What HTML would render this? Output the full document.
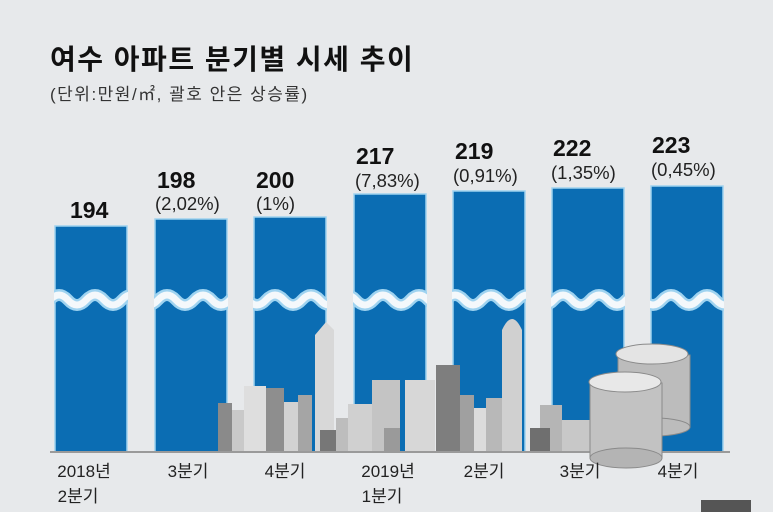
<!DOCTYPE html>
<html><head><meta charset="utf-8"><style>
body{margin:0;background:#e7e9eb;}
svg{display:block;font-family:"Liberation Sans","Noto Sans CJK KR",sans-serif;}
</style></head><body>
<svg width="773" height="512" viewBox="0 0 773 512">
<rect width="773" height="512" fill="#e7e9eb"/>
<text x="50" y="69" font-size="28" font-weight="bold" fill="#111" letter-spacing="1.5">여수 아파트 분기별 시세 추이</text>
<text x="50" y="100" font-size="17" fill="#333" letter-spacing="1.5">(단위:만원/㎡, 괄호 안은 상승률)</text>
<g fill="#0b6db3" stroke="#9fd3f0" stroke-width="1.5">
<rect x="55" y="226" width="72" height="226"/>
<rect x="155" y="219" width="72" height="233"/>
<rect x="254" y="217" width="72" height="235"/>
<rect x="354" y="194" width="72" height="258"/>
<rect x="453" y="191" width="72" height="261"/>
<rect x="552" y="188" width="72" height="264"/>
<rect x="651" y="186" width="72" height="266"/>
</g>
<g fill="none">
<path d="M50 300 q9 -10 18 0 t18 0 t18 0 t18 0 t18 0 t18 0 t18 0 t18 0 t18 0 t18 0 t18 0 t18 0 t18 0 t18 0 t18 0 t18 0 t18 0 t18 0 t18 0 t18 0 t18 0 t18 0 t18 0 t18 0 t18 0 t18 0 t18 0 t18 0 t18 0 t18 0 t18 0 t18 0 t18 0 t18 0 t18 0 t18 0 t18 0 t18 0 t18 0" stroke="#9fd3f0" stroke-width="12"/>
<path d="M50 300 q9 -10 18 0 t18 0 t18 0 t18 0 t18 0 t18 0 t18 0 t18 0 t18 0 t18 0 t18 0 t18 0 t18 0 t18 0 t18 0 t18 0 t18 0 t18 0 t18 0 t18 0 t18 0 t18 0 t18 0 t18 0 t18 0 t18 0 t18 0 t18 0 t18 0 t18 0 t18 0 t18 0 t18 0 t18 0 t18 0 t18 0 t18 0 t18 0 t18 0" stroke="#f4f8fb" stroke-width="7"/>
</g>
<g fill="#e7e9eb">
<rect x="0" y="285" width="54" height="30"/>
<rect x="128" y="285" width="26" height="30"/>
<rect x="228" y="285" width="25" height="30"/>
<rect x="327" y="285" width="26" height="30"/>
<rect x="427" y="285" width="25" height="30"/>
<rect x="526" y="285" width="25" height="30"/>
<rect x="625" y="285" width="25" height="30"/>
<rect x="724" y="285" width="49" height="30"/>
</g>
<g>
<rect x="218" y="403" width="14" height="49" fill="#8a8a8a"/>
<rect x="232" y="410" width="12" height="42" fill="#c9c9c9"/>
<rect x="244" y="386" width="22" height="66" fill="#dedede"/>
<rect x="266" y="388" width="18" height="64" fill="#8e8e8e"/>
<rect x="284" y="402" width="14" height="50" fill="#d2d2d2"/>
<rect x="298" y="395" width="14" height="57" fill="#a5a5a5"/>
<polygon points="315,335 326,322 334,330 334,452 315,452" fill="#d8d8d8"/>
<rect x="320" y="430" width="16" height="22" fill="#777"/>
<rect x="336" y="418" width="12" height="34" fill="#bdbdbd"/>
<rect x="348" y="404" width="24" height="48" fill="#d0d0d0"/>
<rect x="372" y="380" width="28" height="72" fill="#c4c4c4"/>
<rect x="384" y="428" width="16" height="24" fill="#9a9a9a"/>
<rect x="405" y="380" width="30" height="72" fill="#d7d7d7"/>
<rect x="436" y="365" width="24" height="87" fill="#7e7e7e"/>
<rect x="460" y="395" width="14" height="57" fill="#a0a0a0"/>
<rect x="474" y="408" width="12" height="44" fill="#dcdcdc"/>
<rect x="486" y="398" width="16" height="54" fill="#b8b8b8"/>
<path d="M502 452 V330 q10 -22 20 0 V452 Z" fill="#d0d0d0"/>
<rect x="540" y="405" width="22" height="47" fill="#b5b5b5"/>
<rect x="530" y="428" width="20" height="24" fill="#6f6f6f"/>
<rect x="562" y="420" width="28" height="32" fill="#c8c8c8"/>
</g>
<line x1="50" y1="452" x2="730" y2="452" stroke="#9a9a9a" stroke-width="2"/>
<g stroke="#8a8a8a" stroke-width="1">
<rect x="618" y="355" width="72" height="72" fill="#bcbcbc"/>
<ellipse cx="654" cy="427" rx="36" ry="9" fill="#bcbcbc"/>
<ellipse cx="652" cy="354" rx="36" ry="10" fill="#e4e4e4"/>
<rect x="590" y="383" width="72" height="75" fill="#c2c2c2"/>
<ellipse cx="626" cy="458" rx="36" ry="10" fill="#b4b4b4"/>
<ellipse cx="625" cy="382" rx="36" ry="10" fill="#e8e8e8"/>
</g>
<g font-size="23" font-weight="bold" fill="#111">
<text x="70" y="218">194</text>
<text x="157" y="188">198</text>
<text x="256" y="188">200</text>
<text x="356" y="164">217</text>
<text x="455" y="159">219</text>
<text x="553" y="156">222</text>
<text x="652" y="153">223</text>
</g>
<g font-size="18.5" fill="#222">
<text x="155" y="210">(2,02%)</text>
<text x="256" y="210">(1%)</text>
<text x="355" y="187">(7,83%)</text>
<text x="453" y="182">(0,91%)</text>
<text x="551" y="179">(1,35%)</text>
<text x="651" y="176">(0,45%)</text>
</g>
<g font-size="17" fill="#222" text-anchor="middle">
<text x="84" y="477">2018년</text>
<text x="78" y="502">2분기</text>
<text x="188" y="477">3분기</text>
<text x="285" y="477">4분기</text>
<text x="388" y="477">2019년</text>
<text x="382" y="502">1분기</text>
<text x="484" y="477">2분기</text>
<text x="580" y="477">3분기</text>
<text x="678" y="477">4분기</text>
</g>
<rect x="701" y="500" width="50" height="12" fill="#555"/>
</svg>
</body></html>
